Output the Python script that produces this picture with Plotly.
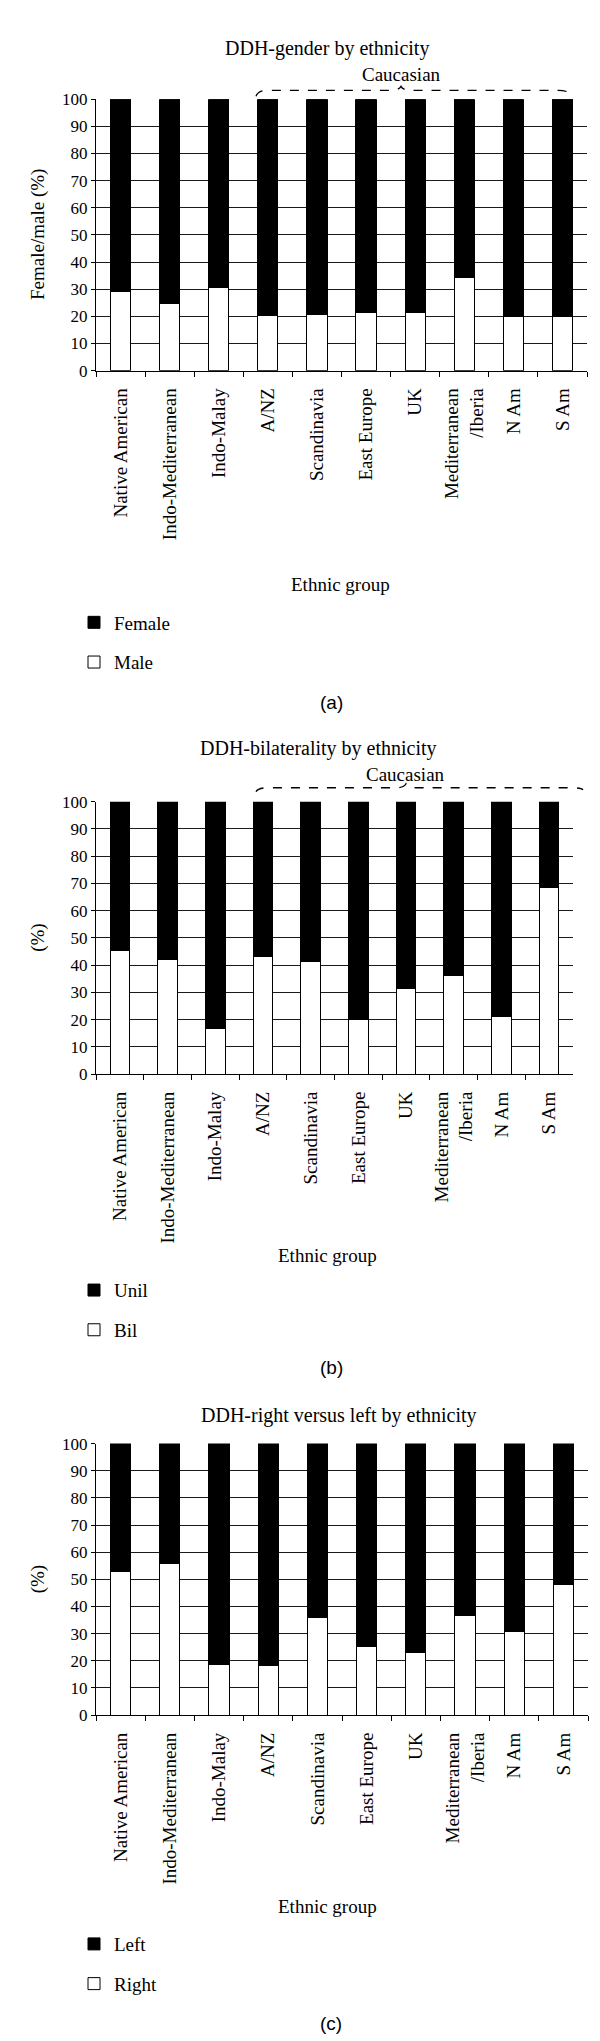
import plotly.graph_objects as go

# ---------------- data ----------------
categories = ["Native American", "Indo-Mediterranean", "Indo-Malay", "A/NZ", "Scandinavia",
              "East Europe", "UK", "Mediterranean<br>/Iberia", "N Am", "S Am"]

male = [29.3, 24.8, 30.5, 20.4, 20.7, 21.3, 21.3, 34.2, 20.1, 19.8]
female = [70.7, 75.2, 69.5, 79.6, 79.3, 78.7, 78.7, 65.8, 79.9, 80.2]

bil = [45.3, 41.9, 16.6, 43.2, 41.4, 19.9, 31.4, 36.2, 21.0, 68.6]
unil = [54.7, 58.1, 83.4, 56.8, 58.6, 80.1, 68.6, 63.8, 79.0, 31.4]

right = [53.0, 55.9, 18.6, 18.3, 36.0, 25.3, 23.1, 36.6, 30.9, 48.2]
left = [47.0, 44.1, 81.4, 81.7, 64.0, 74.7, 76.9, 63.4, 69.1, 51.8]

titles = ["DDH-gender by ethnicity", "DDH-bilaterality by ethnicity",
          "DDH-right versus left by ethnicity"]
ytitles = ["Female/male (%)", "(%)", "(%)"]
captions = ["(a)", "(b)", "(c)"]
series = [(("Male", male), ("Female", female)),
          (("Bil", bil), ("Unil", unil)),
          (("Right", right), ("Left", left))]

# ---------------- layout geometry (pixels) ----------------
W, H = 600, 2041
SERIF = "Liberation Serif"
SANS = "Liberation Sans"

# plot area boxes: (x0, x1, ytop, ybottom)
boxes = [(88, 579, 83, 357), (88, 565, 792, 1067), (88, 580, 1440, 1714)]
title_y = [32, 738, 1412]
title_x = [319, 310, 331]
xtitle_y = [573, 1250, 1907]
xtitle_x = [332, 319, 319]
legend_y = [609, 1283, 1943]
caption_y = [692, 1363, 2025]


def px(x):
    return x / W


def py(y):
    return 1 - y / H


fig = go.Figure()
layout = dict(width=W, height=H, margin=dict(l=0, r=0, t=0, b=0),
              paper_bgcolor="white", plot_bgcolor="white",
              barmode="stack", bargap=0.59, annotations=[], shapes=[])

for i in range(3):
    sfx = "" if i == 0 else str(i + 1)
    xa, ya = "x" + sfx, "y" + sfx
    leg = "legend" + sfx
    (bname, bvals), (tname, tvals) = series[i]
    fig.add_trace(go.Bar(x=categories, y=bvals, name=bname, xaxis=xa, yaxis=ya,
                         marker=dict(color="white", line=dict(color="black", width=1)),
                         legend=leg, legendgroup=bname + sfx, legendrank=2))
    fig.add_trace(go.Bar(x=categories, y=tvals, name=tname, xaxis=xa, yaxis=ya,
                         marker=dict(color="black", line=dict(color="black", width=1)),
                         legend=leg, legendgroup=tname + sfx, legendrank=1))
    x0, x1, yt, yb = boxes[i]
    layout["xaxis" + sfx] = dict(domain=[px(x0), px(x1)], anchor=ya, type="category",
                                 showline=True, linecolor="black", linewidth=1,
                                 ticks="outside", tickson="boundaries", ticklen=5,
                                 tickcolor="black", tickangle=-90, showgrid=False,
                                 ticklabelstandoff=9,
                                 tickfont=dict(family=SERIF, size=19, color="black"))
    layout["yaxis" + sfx] = dict(domain=[py(yb), py(yt)], anchor=xa, range=[0, 100],
                                 tick0=0, dtick=10, showline=True, linecolor="black",
                                 linewidth=1, ticks="outside", ticklen=4, tickcolor="black",
                                 showgrid=True, gridcolor="#1a1a1a", gridwidth=1,
                                 zeroline=False,
                                 tickfont=dict(family=SERIF, size=17, color="black"))
    layout[leg] = dict(x=px(66), y=py(legend_y[i] - 17), xanchor="left", yanchor="top",
                       traceorder="grouped", tracegroupgap=12,
                       bgcolor="rgba(0,0,0,0)",
                       font=dict(family=SERIF, size=19, color="black"))
    ann = layout["annotations"]
    ann.append(dict(text=titles[i], x=px(title_x[i]), y=py(title_y[i]), xref="paper",
                    yref="paper", showarrow=False, xanchor="center", yanchor="middle",
                    font=dict(family=SERIF, size=20, color="black")))
    ann.append(dict(text=ytitles[i], x=px(30), y=py((yt + yb) / 2), xref="paper",
                    yref="paper", showarrow=False, textangle=-90, xanchor="center",
                    yanchor="middle", font=dict(family=SERIF, size=19, color="black")))
    ann.append(dict(text="Ethnic group", x=px(xtitle_x[i]), y=py(xtitle_y[i]), xref="paper",
                    yref="paper", showarrow=False, xanchor="center", yanchor="middle",
                    font=dict(family=SERIF, size=19, color="black")))
    ann.append(dict(text=captions[i], x=px(323), y=py(caption_y[i]), xref="paper",
                    yref="paper", showarrow=False, xanchor="center", yanchor="middle",
                    font=dict(family=SANS, size=19, color="black")))

# Caucasian brace annotations for panels (a) and (b)
braces = [dict(tx=393, ty=58, l=(248, 80), h=74, peak=(393, 70), r=(562, 78)),
          dict(tx=397, ty=765, l=(248, 782), h=778, peak=(398, 774), r=(575, 780))]
for b in braces:
    layout["annotations"].append(dict(text="Caucasian", x=px(b["tx"]), y=py(b["ty"]),
                                      xref="paper", yref="paper", showarrow=False,
                                      xanchor="center", yanchor="middle",
                                      font=dict(family=SERIF, size=19, color="black")))
    lx, ly = b["l"]
    rx, ry = b["r"]
    cx, cy = b["peak"]
    h = b["h"]
    pts = [
        f"M{px(lx)},{py(ly)}",
        f"Q{px(lx + 2)},{py(h)} {px(lx + 12)},{py(h)}",
        f"L{px(cx - 10)},{py(h)}",
        f"Q{px(cx - 2)},{py(h)} {px(cx)},{py(cy)}",
        f"Q{px(cx + 2)},{py(h)} {px(cx + 10)},{py(h)}",
        f"L{px(rx - 12)},{py(h)}",
        f"Q{px(rx - 2)},{py(h)} {px(rx)},{py(ry)}",
    ]
    layout["shapes"].append(dict(type="path", xref="paper", yref="paper",
                                 path=" ".join(pts),
                                 line=dict(color="black", width=1.3, dash="dash")))

fig.update_layout(**layout)
fig.write_html("out.html")
